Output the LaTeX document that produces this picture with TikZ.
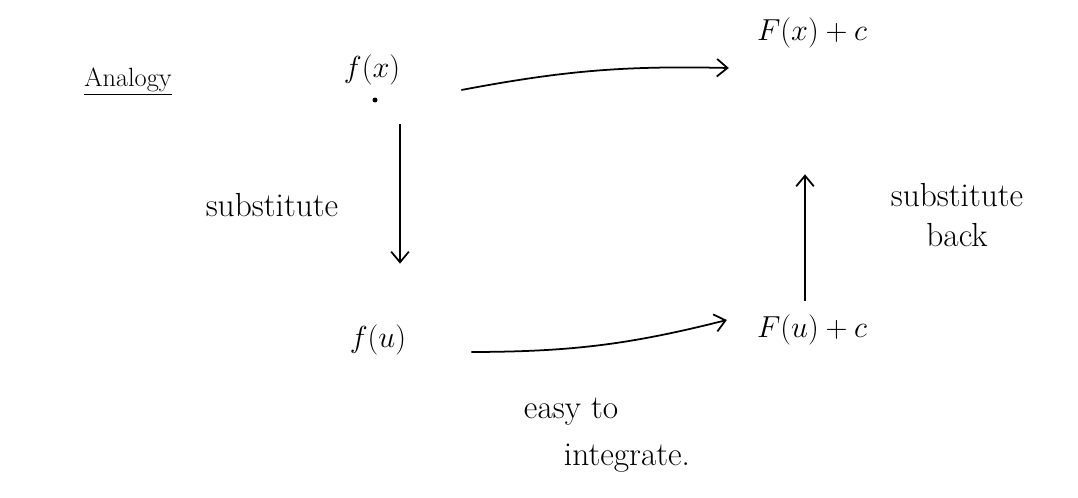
\documentclass[tikz,border=0pt]{standalone}
\usetikzlibrary{arrows.meta, positioning}

\begin{document}
\begin{tikzpicture}[x=0.02cm, y=-0.02cm,
    every node/.style={font=\fontsize{19}{23}\selectfont},
    link/.style={-{Straight Barb[length=6pt,width=10pt]}, line width=1pt}]
    % Fix the page to the size of the sketch
    \useasboundingbox (0,0) rectangle (1078,497);

    % Title in the corner
    \node (analogy) at (128,82) {\fontsize{15}{18}\selectfont\underline{Analogy}};

    % The four corners of the square
    \node (fx) at (372,70) {$f(x)$};
    \node (Fx) at (812,33) {$F(x)+c$};
    \node (fu) at (378,340) {$f(u)$};
    \node (Fu) at (812,330) {$F(u)+c$};

    % Small dot under f(x)
    \fill (375,100) circle[radius=2.5];

    % Arrows round the square
    \draw[link] ([shift={(55,20)}]fx.east) to[bend left=6] ([shift={(-22,35)}]Fx.west);
    \draw[link] ([shift={(28,33)}]fx.south) -- ([shift={(22,-55)}]fu.north);
    \draw[link] ([shift={(59,12)}]fu.east) to[bend right=7] ([shift={(-24,-10)}]Fu.west);
    \draw[link] ([shift={(-7,-8)}]Fu.north) -- ([shift={(-7,120)}]Fx.south);

    % Labels on the arrows
    \node (sub) at (272,205) {substitute};
    \node[align=center] (back) at (957,215) {substitute\\back};
    \node[align=left] (easy) at (607,435) {easy to\\[4pt]\hspace*{0.8cm}integrate.};
\end{tikzpicture}
\end{document}
